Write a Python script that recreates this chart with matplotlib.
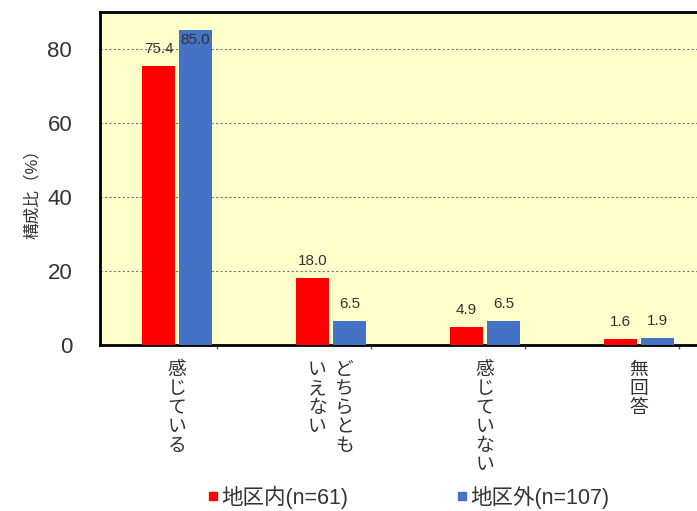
import matplotlib
matplotlib.use("Agg")
import matplotlib.pyplot as plt
from matplotlib.lines import Line2D
import numpy as np

plt.rcParams['font.family'] = ['Liberation Sans', 'Noto Sans CJK JP', 'DejaVu Sans']

# 回答区分（縦書きラベル、複数列は右から左へ）
categories = [["感じている"], ["どちらとも", "いえない"], ["感じていない"], ["無回答"]]
inside = [75.4, 18.0, 4.9, 1.6]     # 地区内(n=61)
outside = [85.0, 6.5, 6.5, 1.9]     # 地区外(n=107)
series_names = ["地区内(n=61)", "地区外(n=107)"]
yticks = [0, 20, 40, 60, 80]

red = "#FF0000"
blue = "#4472C4"
text_col = "#333333"

fig = plt.figure(figsize=(6.97, 5.11), dpi=100)
ax = fig.add_axes([100/697, 166/511, 616/697, 333/511])
ax.set_facecolor("#FFFFCC")

x = np.arange(len(categories))
w = 0.215
gap = 0.012
ax.bar(x - w/2 - gap, inside, width=w, color=red, zorder=3)
ax.bar(x + w/2 + gap, outside, width=w, color=blue, zorder=3)

# 値ラベル（上端付近は枠内に収める）
for xi, v in zip(x - w/2 - gap, inside):
    ax.text(xi, min(v + 4.6, 82.4), f"{v:.1f}", ha='center', va='center',
            fontsize=11, color=text_col, zorder=4)
for xi, v in zip(x + w/2 + gap, outside):
    ax.text(xi, min(v + 4.6, 82.4), f"{v:.1f}", ha='center', va='center',
            fontsize=11, color=text_col, zorder=4)

ax.set_xlim(-0.5, 3.5)
ax.set_ylim(0, 90)
ax.set_yticks(yticks)
ax.set_yticklabels([str(t) for t in yticks], fontsize=16, color=text_col)
ax.tick_params(axis='y', length=0, pad=20)
ax.set_xticks(x + 0.26)
ax.set_xticklabels([])
ax.tick_params(axis='x', length=3, width=1, direction='out', color="#555555")

ax.yaxis.grid(True, linestyle=(0, (2, 2)), color="#777777", linewidth=0.8, zorder=1)

for side in ['left', 'top', 'bottom']:
    ax.spines[side].set_linewidth(2)
    ax.spines[side].set_color('black')
ax.spines['right'].set_visible(False)

ax.set_ylabel("構成比（%）", fontsize=12, color=text_col)
ax.yaxis.set_label_coords(-60/616, 0.465)

# 縦書きの区分ラベル
for xi, cols in zip(x, categories):
    n = len(cols)
    for k, col in enumerate(cols):
        off = (n - 1) / 2 * 27 - k * 27
        ax.annotate("\n".join(col), xy=(xi, 0), xycoords=('data', 'axes fraction'),
                    xytext=(off, -14), textcoords='offset pixels',
                    ha='center', va='top', fontsize=13.5, color=text_col,
                    family=['Noto Sans CJK JP'], linespacing=0.88,
                    annotation_clip=False)

handles = [Line2D([], [], marker='s', linestyle='none', color=c, markersize=6)
           for c in (red, blue)]
fig.legend(handles, series_names, loc='center', bbox_to_anchor=(407/697, 1 - 497/511),
           ncol=2, frameon=False, fontsize=15.5, handletextpad=0.0, columnspacing=4.85,
           handlelength=0.8, labelcolor=text_col)

fig.savefig("out.png", dpi=100)
